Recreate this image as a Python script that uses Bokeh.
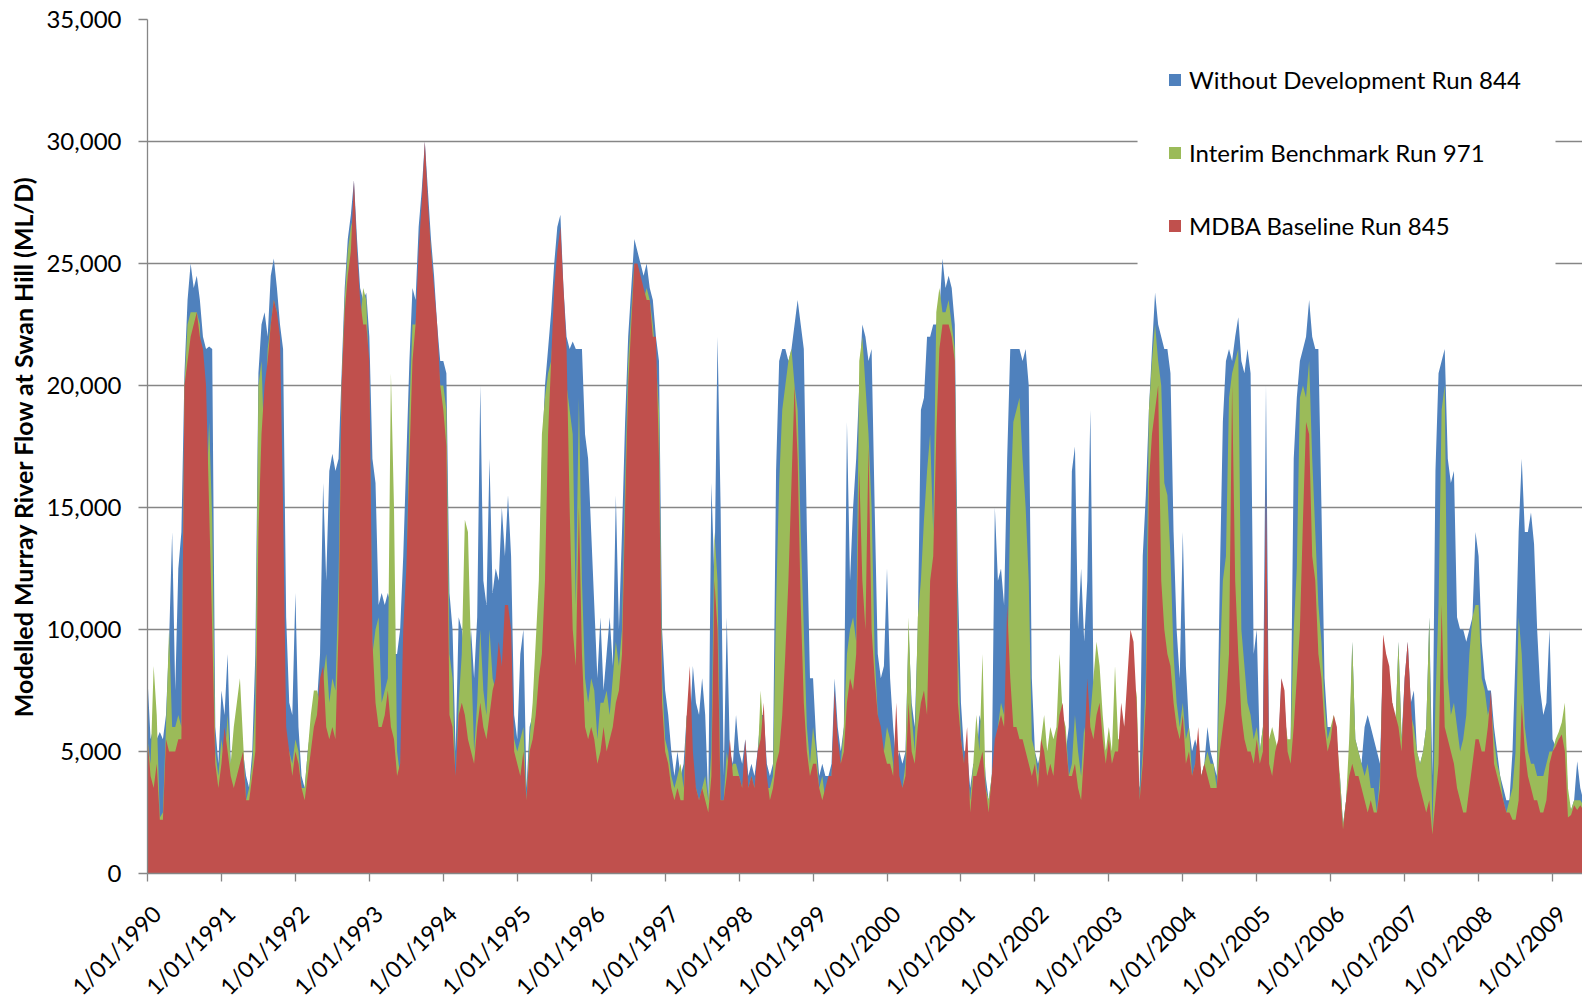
import math
from bokeh.plotting import figure
from bokeh.layouts import column
from bokeh.models import (Range1d, FixedTicker, NumeralTickFormatter,
                          CustomJSTickFormatter, Legend, LegendItem, BoxAnnotation)
from bokeh.core.properties import value
from bokeh.embed import file_html
from bokeh.resources import INLINE

# Half-monthly samples (24 per year), values in thousand ML/d
START_YEAR = 1990
STEPS_PER_YEAR = 24
YEAR_TICKS = list(range(1990, 2010))
YEAR_LABELS = ["1/01/%d" % y for y in YEAR_TICKS]
Y_TICKS = [0, 5000, 10000, 15000, 20000, 25000, 30000, 35000]

WITHOUT_DEV_844 = [
    8.0, 5.5, 6.0, 5.5, 5.8, 5.5, 6.5, 9.5, 14.0, 7.5, 12.5, 14.0, 20.5, 23.5, 25.0, 24.0, 24.5, 23.5, 22.0, 21.5, 21.6, 21.5, 6.0, 4.5,
    7.5, 6.5, 9.0, 4.5, 4.0, 3.8, 4.5, 5.0, 4.0, 3.5, 5.0, 9.0, 20.5, 22.5, 23.0, 22.0, 24.5, 25.2, 24.0, 22.5, 21.5, 10.5, 7.0, 6.5,
    11.5, 6.0, 4.0, 3.5, 5.0, 6.0, 6.5, 7.0, 9.0, 16.0, 12.0, 16.5, 17.2, 16.5, 17.0, 20.5, 24.0, 26.0, 27.0, 28.4, 26.0, 24.0, 23.5, 23.8,
    22.0, 17.0, 16.0, 11.0, 11.5, 11.0, 11.5, 11.0, 9.0, 9.0, 10.0, 13.0, 17.0, 21.0, 24.0, 23.5, 26.5, 28.0, 30.0, 28.0, 26.0, 24.5, 22.5, 21.0,
    21.0, 20.5, 11.5, 10.0, 5.0, 10.5, 10.0, 9.0, 8.5, 10.0, 8.0, 10.5, 20.0, 12.0, 11.0, 17.0, 11.5, 12.5, 12.0, 15.0, 13.0, 15.5, 13.0, 6.5,
    5.5, 9.0, 10.0, 3.5, 6.0, 6.5, 9.0, 11.0, 17.0, 20.0, 21.5, 23.0, 25.0, 26.5, 27.0, 24.0, 22.0, 21.5, 21.8, 21.5, 21.5, 21.5, 18.0, 17.0,
    14.0, 11.0, 8.0, 10.5, 7.5, 9.0, 10.5, 8.5, 15.5, 10.0, 14.0, 18.5, 22.0, 24.0, 26.0, 25.5, 25.0, 24.5, 25.0, 24.0, 23.5, 22.0, 21.0, 10.0,
    7.5, 6.5, 5.0, 4.0, 5.0, 4.0, 4.5, 6.5, 6.0, 8.5, 7.0, 6.5, 8.0, 6.5, 3.0, 16.0, 12.0, 22.0, 15.0, 4.0, 10.5, 5.0, 4.5, 6.5,
    5.0, 4.5, 5.5, 4.0, 4.5, 4.0, 5.0, 6.5, 6.5, 4.5, 4.0, 4.5, 16.5, 21.0, 21.5, 21.5, 21.0, 21.5, 22.5, 23.5, 22.5, 21.5, 14.0, 8.0,
    8.0, 5.5, 4.0, 4.5, 4.0, 4.0, 4.5, 8.0, 6.0, 5.0, 6.0, 18.5, 12.0, 15.0, 17.0, 20.0, 22.5, 22.0, 21.0, 21.5, 15.0, 9.0, 8.0, 8.5,
    12.5, 8.0, 6.0, 4.5, 5.0, 4.5, 5.0, 10.0, 7.0, 6.0, 10.0, 19.0, 19.5, 22.0, 22.0, 22.5, 22.5, 23.0, 25.2, 24.0, 24.5, 24.0, 22.5, 12.0,
    7.0, 5.0, 5.0, 3.5, 4.5, 4.5, 6.5, 6.0, 4.0, 3.0, 4.0, 15.0, 12.0, 12.5, 11.0, 17.0, 21.5, 21.5, 21.5, 21.5, 21.0, 21.5, 20.0, 8.0,
    5.0, 4.5, 5.0, 4.0, 4.5, 5.0, 4.5, 5.0, 8.0, 6.5, 5.0, 6.0, 16.5, 17.5, 10.0, 12.5, 9.5, 12.0, 19.0, 8.0, 6.5, 6.0, 5.5, 5.0,
    5.0, 4.5, 5.5, 5.0, 6.0, 5.5, 7.0, 9.0, 7.5, 4.0, 3.5, 13.0, 15.5, 19.0, 21.5, 23.8, 22.5, 22.0, 21.5, 21.5, 20.5, 14.0, 10.0, 8.0,
    14.0, 8.5, 6.0, 5.0, 5.5, 5.0, 4.0, 4.5, 6.0, 5.0, 4.5, 4.0, 12.0, 18.5, 21.0, 21.5, 21.0, 22.0, 22.8, 21.0, 20.5, 21.5, 20.5, 9.0,
    10.0, 5.0, 6.0, 20.0, 5.0, 4.5, 5.0, 5.0, 8.0, 7.0, 5.0, 5.5, 17.0, 19.5, 21.0, 21.5, 22.0, 23.5, 22.0, 21.5, 21.5, 15.0, 8.0, 6.0,
    6.0, 5.0, 4.5, 4.0, 2.0, 3.0, 4.5, 9.5, 5.5, 5.0, 4.5, 6.0, 6.5, 6.0, 5.5, 5.0, 4.5, 9.0, 8.0, 6.5, 7.0, 6.0, 9.5, 5.5,
    8.0, 9.5, 7.0, 7.5, 5.0, 4.5, 5.0, 6.0, 10.5, 4.0, 16.5, 20.5, 21.0, 21.5, 17.0, 16.0, 16.5, 10.5, 10.0, 10.0, 9.5, 10.0, 10.5, 14.0,
    13.0, 9.5, 8.0, 7.5, 7.5, 6.0, 5.0, 4.0, 3.5, 3.0, 3.0, 5.0, 9.0, 14.0, 17.0, 14.0, 14.0, 14.8, 13.5, 10.0, 7.5, 6.5, 7.0, 10.0,
    5.5, 5.2, 5.6, 6.0, 6.5, 3.0, 2.6, 3.0, 4.6, 3.5, 3.0,
]

INTERIM_BENCHMARK_971 = [
    5.5, 4.5, 8.5, 6.5, 2.3, 2.5, 6.0, 10.0, 6.0, 6.0, 6.5, 6.0, 20.0, 22.5, 23.0, 23.0, 23.0, 22.5, 17.5, 15.0, 18.5, 14.5, 5.0, 4.0,
    5.5, 4.5, 6.5, 4.5, 6.0, 7.0, 8.0, 5.5, 3.0, 3.5, 4.5, 7.0, 20.0, 21.0, 17.0, 21.5, 22.5, 23.5, 23.0, 19.0, 8.5, 5.5, 5.0, 4.5,
    5.5, 5.0, 3.5, 3.5, 5.0, 6.5, 7.5, 7.5, 7.0, 8.0, 9.0, 7.0, 8.0, 7.5, 12.0, 20.0, 23.5, 25.5, 26.5, 27.0, 24.0, 22.5, 24.0, 23.5,
    20.0, 9.0, 10.0, 10.5, 7.0, 7.5, 8.0, 20.5, 15.0, 5.0, 4.0, 7.5, 11.0, 19.0, 22.5, 22.5, 24.0, 26.5, 28.5, 27.0, 25.5, 23.5, 21.5, 20.0,
    20.0, 19.0, 9.0, 8.0, 3.5, 7.0, 9.0, 14.5, 14.0, 9.0, 5.0, 7.0, 10.0, 7.5, 6.5, 10.0, 8.0, 7.5, 6.5, 6.5, 9.0, 8.5, 7.0, 5.5,
    5.0, 5.5, 6.0, 3.0, 5.5, 7.0, 9.5, 12.0, 18.0, 19.5, 20.5, 21.0, 23.0, 25.0, 25.5, 22.5, 20.0, 19.0, 18.0, 11.0, 19.5, 12.0, 8.0, 7.0,
    8.0, 7.5, 5.5, 7.0, 7.0, 7.5, 6.5, 8.0, 9.5, 8.5, 10.0, 16.0, 21.0, 23.0, 25.0, 24.5, 24.0, 23.5, 24.0, 23.5, 22.5, 21.0, 19.0, 8.0,
    5.5, 5.0, 4.0, 3.5, 4.0, 4.5, 3.5, 6.5, 5.0, 4.0, 3.5, 3.0, 3.5, 4.0, 3.0, 5.0, 14.0, 12.0, 3.0, 3.0, 5.0, 4.0, 4.5, 4.5,
    4.0, 3.5, 4.5, 3.5, 4.0, 3.5, 4.5, 7.5, 5.5, 3.5, 3.5, 4.0, 11.0, 16.0, 19.0, 20.0, 21.0, 21.5, 20.0, 19.0, 14.0, 10.0, 6.0, 4.5,
    6.0, 5.0, 3.5, 4.0, 3.0, 3.5, 4.0, 6.5, 5.0, 4.5, 6.0, 9.0, 10.0, 10.5, 9.5, 21.0, 22.0, 20.0, 18.0, 15.0, 9.0, 6.5, 5.5, 5.0,
    6.0, 5.5, 4.5, 3.0, 3.5, 3.5, 4.5, 10.5, 6.5, 5.0, 10.5, 12.0, 14.5, 16.5, 18.0, 14.0, 23.0, 24.0, 23.0, 23.0, 23.5, 22.5, 21.5, 9.0,
    5.5, 4.5, 4.5, 3.0, 4.5, 6.5, 5.0, 9.0, 3.5, 3.0, 4.0, 5.0, 6.0, 7.0, 6.5, 8.0, 15.0, 18.5, 19.0, 19.5, 17.0, 15.0, 12.0, 5.5,
    5.0, 4.0, 5.5, 6.5, 5.0, 6.0, 5.5, 6.0, 9.0, 6.5, 6.0, 4.0, 4.5, 6.5, 5.0, 4.0, 6.0, 5.0, 6.5, 8.0, 9.5, 8.5, 6.5, 5.0,
    6.0, 5.0, 8.5, 5.5, 5.5, 6.0, 6.5, 8.0, 6.0, 7.5, 3.0, 5.0, 8.0, 19.0, 21.0, 22.5, 21.0, 20.0, 16.0, 15.5, 13.0, 9.0, 7.0, 6.0,
    7.0, 5.5, 6.0, 4.0, 4.5, 5.0, 4.0, 4.5, 5.0, 4.5, 4.5, 3.5, 8.5, 12.0, 13.0, 19.5, 20.5, 21.0, 21.5, 10.0, 8.5, 7.0, 6.5, 5.5,
    6.0, 5.0, 6.0, 6.5, 5.5, 6.0, 5.5, 5.0, 7.5, 6.5, 5.5, 5.5, 10.0, 12.5, 19.5, 20.0, 19.5, 21.0, 17.0, 14.0, 11.0, 9.5, 7.0, 5.5,
    6.0, 6.5, 5.5, 4.0, 2.0, 3.0, 5.5, 9.5, 5.5, 5.0, 4.5, 4.0, 4.5, 3.5, 3.5, 2.5, 4.0, 9.0, 8.0, 6.5, 7.0, 6.0, 9.5, 5.5,
    7.5, 7.0, 6.5, 6.0, 5.0, 4.5, 5.0, 6.0, 10.5, 1.8, 7.0, 11.0, 19.0, 20.0, 8.0, 6.5, 7.0, 6.0, 5.0, 5.5, 6.5, 9.0, 10.5, 11.0,
    11.0, 8.0, 7.5, 6.5, 7.0, 5.5, 4.5, 4.0, 3.0, 2.5, 3.0, 3.5, 5.0, 10.5, 9.0, 6.0, 5.0, 4.5, 4.5, 4.0, 4.0, 4.0, 4.5, 5.0,
    5.0, 5.5, 5.8, 6.2, 7.0, 3.5, 2.6, 3.0, 3.0, 3.0, 2.8,
]

MDBA_BASELINE_845 = [
    5.5, 4.0, 3.5, 4.5, 2.2, 2.2, 5.5, 5.0, 5.0, 5.0, 5.5, 5.5, 20.0, 21.0, 22.0, 22.5, 23.0, 22.0, 21.5, 20.0, 15.0, 10.0, 4.5, 3.5,
    4.5, 6.0, 5.0, 4.0, 3.5, 4.0, 4.5, 5.0, 3.0, 3.0, 4.0, 5.0, 14.0, 18.0, 20.0, 21.0, 22.5, 23.5, 23.0, 22.0, 15.0, 6.0, 5.0, 4.0,
    5.0, 4.5, 3.5, 3.0, 4.0, 5.0, 6.0, 6.5, 8.0, 8.5, 6.0, 5.5, 6.0, 5.5, 10.0, 20.0, 23.0, 24.5, 25.5, 28.4, 25.5, 23.5, 22.5, 22.5,
    21.0, 9.5, 7.0, 6.0, 6.0, 6.5, 7.5, 6.0, 5.5, 4.0, 4.5, 10.0, 12.5, 17.0, 21.0, 22.5, 25.5, 27.5, 30.0, 27.5, 25.5, 24.0, 22.5, 20.0,
    19.0, 17.5, 6.5, 6.0, 4.0, 6.5, 7.0, 6.5, 5.5, 5.0, 4.5, 6.0, 7.0, 6.0, 5.5, 6.5, 7.5, 8.0, 9.5, 8.5, 11.0, 11.0, 10.0, 5.0,
    4.5, 4.0, 5.0, 3.0, 5.0, 5.5, 6.5, 8.0, 9.0, 12.0, 18.0, 21.0, 24.0, 25.5, 26.5, 24.0, 21.5, 15.0, 10.0, 8.5, 15.0, 9.0, 6.0, 5.5,
    6.0, 5.5, 4.5, 5.0, 6.0, 5.0, 5.5, 6.0, 7.0, 7.5, 9.0, 15.0, 20.0, 22.5, 25.0, 25.0, 24.5, 24.0, 23.5, 23.5, 22.0, 22.0, 17.0, 7.0,
    5.0, 4.5, 3.5, 3.0, 3.5, 3.0, 3.0, 6.5, 8.5, 5.0, 3.5, 3.0, 3.5, 3.0, 2.5, 4.0, 12.0, 10.0, 3.0, 3.0, 4.0, 5.5, 4.0, 4.0,
    4.0, 3.5, 5.5, 3.5, 4.0, 3.5, 5.0, 5.5, 7.0, 4.0, 3.0, 3.5, 4.5, 5.0, 6.5, 9.0, 12.0, 16.0, 20.0, 17.0, 11.0, 7.0, 5.0, 4.0,
    4.5, 4.5, 3.5, 3.0, 3.5, 4.0, 4.0, 7.5, 5.5, 4.5, 5.0, 7.0, 8.0, 7.5, 9.0, 16.5, 12.0, 10.0, 17.5, 10.0, 8.0, 6.5, 6.0, 5.0,
    4.5, 4.5, 4.0, 7.0, 4.0, 3.5, 4.0, 7.0, 5.0, 4.5, 6.0, 7.0, 7.5, 6.5, 12.0, 13.0, 18.0, 21.5, 22.5, 22.5, 22.5, 22.0, 21.0, 7.0,
    5.5, 4.5, 6.0, 2.5, 4.0, 4.0, 4.5, 5.0, 3.5, 2.5, 4.0, 5.5, 6.0, 6.5, 6.0, 11.0, 8.0, 6.0, 6.0, 5.5, 5.5, 5.0, 4.5, 4.0,
    4.5, 3.5, 5.5, 5.0, 4.0, 4.5, 4.0, 5.5, 6.5, 7.0, 5.5, 4.0, 4.0, 4.5, 3.5, 3.0, 5.0, 8.0, 6.0, 5.5, 6.5, 7.0, 5.5, 4.5,
    5.5, 4.5, 5.0, 5.0, 7.0, 6.0, 8.0, 10.0, 9.5, 7.0, 3.0, 4.5, 7.0, 16.0, 18.0, 19.0, 20.0, 12.0, 10.0, 9.0, 8.5, 7.0, 6.0, 5.5,
    6.5, 4.5, 5.0, 4.0, 4.5, 6.0, 4.0, 4.5, 4.0, 3.5, 3.5, 3.5, 5.0, 6.0, 7.0, 9.0, 20.0, 12.0, 9.0, 6.5, 5.5, 5.0, 5.0, 4.5,
    5.5, 4.5, 5.0, 15.8, 4.5, 4.0, 5.0, 5.5, 8.0, 7.5, 5.0, 4.5, 6.0, 8.0, 10.0, 14.5, 18.5, 18.0, 13.0, 12.0, 9.0, 8.0, 6.0, 5.0,
    5.5, 6.5, 6.0, 3.5, 1.8, 3.0, 4.0, 4.5, 4.0, 4.0, 3.5, 3.0, 2.5, 3.0, 2.5, 2.5, 3.5, 9.8, 9.0, 8.5, 7.0, 6.5, 6.0, 5.0,
    8.0, 9.5, 7.0, 5.0, 4.0, 3.5, 3.0, 2.5, 3.0, 1.6, 3.0, 4.5, 11.0, 6.0, 5.5, 5.0, 4.5, 3.5, 3.0, 2.5, 2.5, 3.5, 4.5, 5.5,
    5.5, 5.0, 5.0, 6.0, 7.5, 4.5, 4.0, 3.5, 3.0, 2.5, 2.5, 2.2, 2.2, 3.0, 7.0, 5.0, 4.0, 3.5, 3.0, 3.0, 2.5, 2.5, 3.0, 4.5,
    5.0, 5.2, 5.5, 5.7, 5.0, 2.3, 2.4, 2.8, 2.6, 2.8, 2.6,
]

SERIES_NAMES = ["Without Development Run 844", "Interim Benchmark Run 971", "MDBA Baseline Run 845"]
SERIES_COLORS = ["#4F81BD", "#9BBB59", "#C0504D"]

assert len(WITHOUT_DEV_844) == len(INTERIM_BENCHMARK_971) == len(MDBA_BASELINE_845)

n = len(WITHOUT_DEV_844)
x = [START_YEAR + i / STEPS_PER_YEAR for i in range(n)]
series = [
    [v * 1000 for v in WITHOUT_DEV_844],
    [v * 1000 for v in INTERIM_BENCHMARK_971],
    [v * 1000 for v in MDBA_BASELINE_845],
]

FONT = "Lato"
GRAY = "#868686"

# ---- layout geometry (pixels) ----
TOTAL_W, TOTAL_H = 1582, 995
LEFT, TOP = 147, 19
FRAME_BOTTOM = 873
MAIN_H = FRAME_BOTTOM + 18          # main plot keeps only room for tick marks / "0"
LABEL_H = TOTAL_H - MAIN_H          # strip below that carries the slanted dates
X0, X1 = 1990.0, 2009.405
PX_PER_UNIT = (TOTAL_W - LEFT) / (X1 - X0)
STRIP_X0 = X0 - LEFT / PX_PER_UNIT  # same x scale, strip frame starts at page x=0
LABEL_DROP = 36                     # label anchor below the x axis line

p = figure(width=TOTAL_W, height=MAIN_H,
           x_range=Range1d(X0, X1), y_range=Range1d(0, 35000),
           output_backend="svg", toolbar_location=None,
           min_border_left=LEFT, min_border_right=0,
           min_border_top=TOP, min_border_bottom=MAIN_H - FRAME_BOTTOM)
p.frame_align = False
p.outline_line_color = None
p.background_fill_color = "white"
p.border_fill_color = "white"

renderers = []
for vals, col in zip(series, SERIES_COLORS):
    r = p.varea(x=x, y1=0, y2=vals, fill_color=col, fill_alpha=1.0)
    renderers.append(r)

# grid
p.xgrid.grid_line_color = None
p.ygrid.ticker = FixedTicker(ticks=Y_TICKS)
p.ygrid.grid_line_color = GRAY
p.ygrid.grid_line_width = 1.3

# y axis
ya = p.yaxis[0]
ya.ticker = FixedTicker(ticks=Y_TICKS)
ya.formatter = NumeralTickFormatter(format="0,0")
ya.axis_line_color = GRAY
ya.axis_line_width = 1.3
ya.major_tick_line_color = GRAY
ya.major_tick_line_width = 1.3
ya.major_tick_out = 9
ya.major_tick_in = 0
ya.minor_tick_line_color = None
ya.major_label_text_font = FONT
ya.major_label_text_font_size = "24px"
ya.major_label_text_color = "black"
ya.major_label_standoff = 17
ya.axis_label = "Modelled Murray River Flow at Swan Hill (ML/D)"
ya.axis_label_text_font = FONT
ya.axis_label_text_font_style = "bold"
ya.axis_label_text_font_size = "25px"
ya.axis_label_text_color = "black"
ya.axis_label_standoff = 5

# x axis: line and tick marks only (dates are drawn in the strip below)
xa = p.xaxis[0]
xa.ticker = FixedTicker(ticks=YEAR_TICKS)
xa.formatter = CustomJSTickFormatter(code="return '';")
xa.axis_line_color = GRAY
xa.axis_line_width = 1.3
xa.major_tick_line_color = GRAY
xa.major_tick_line_width = 1.3
xa.major_tick_out = 8
xa.major_tick_in = 0
xa.minor_tick_line_color = None
xa.major_label_text_font_size = "0px"
xa.major_label_standoff = 0

# white panel behind the legend (hides grid lines there, as in the original)
legend_bg = BoxAnnotation(left=2003.388, right=2009.04, bottom=24750, top=34150,
                          fill_color="white", fill_alpha=1.0, line_color=None)
p.add_layout(legend_bg)

legend = Legend(
    items=[LegendItem(label=name, renderers=[r]) for name, r in zip(SERIES_NAMES, renderers)],
    location=(1020, 633), orientation="vertical",
    padding=31, spacing=44, margin=0,
    glyph_width=15, glyph_height=15, label_standoff=7, label_height=28,
    label_text_font=FONT, label_text_font_size="24px", label_text_color="black",
    background_fill_alpha=0.0, border_line_color=None,
)
p.add_layout(legend)

# ---- strip with the slanted x tick labels ----
strip = figure(width=TOTAL_W, height=LABEL_H,
               x_range=Range1d(STRIP_X0, X1), y_range=Range1d(0, LABEL_H),
               output_backend="svg", toolbar_location=None,
               x_axis_location=None, y_axis_location=None,
               min_border_left=0, min_border_right=0,
               min_border_top=0, min_border_bottom=0)
strip.frame_align = False
strip.outline_line_color = None
strip.xgrid.visible = False
strip.ygrid.visible = False
strip.background_fill_color = "white"
strip.border_fill_color = "white"
label_y = LABEL_H - (FRAME_BOTTOM + LABEL_DROP - MAIN_H)
strip.text(x=YEAR_TICKS, y=[label_y] * len(YEAR_TICKS), text=YEAR_LABELS,
           angle=math.pi / 4, text_align="right", text_baseline="middle",
           x_offset=9, text_font=value(FONT), text_font_size=value("23px"),
           text_color="black")

layout = column(p, strip, spacing=0)
open("out.html", "w").write(file_html(layout, INLINE))
